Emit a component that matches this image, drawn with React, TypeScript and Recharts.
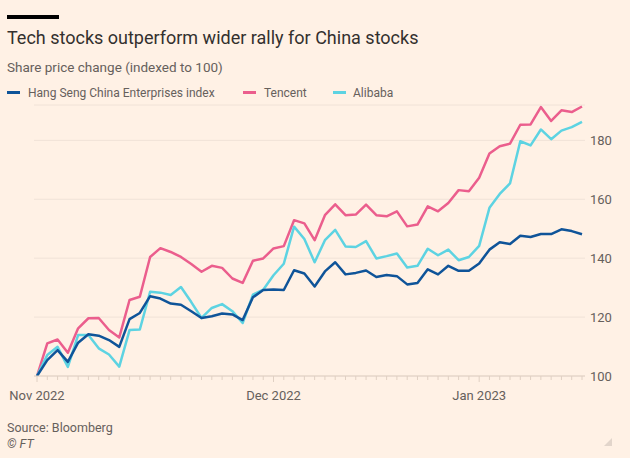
import React from 'react';
import { LineChart, Line, XAxis, YAxis, CartesianGrid } from 'recharts';

// Trading days (HK), Oct 31 2022 = 100 base
const dates = [
  '2022-10-31',
  '2022-11-01', '2022-11-02', '2022-11-03', '2022-11-04',
  '2022-11-07', '2022-11-08', '2022-11-09', '2022-11-10', '2022-11-11',
  '2022-11-14', '2022-11-15', '2022-11-16', '2022-11-17', '2022-11-18',
  '2022-11-21', '2022-11-22', '2022-11-23', '2022-11-24', '2022-11-25',
  '2022-11-28', '2022-11-29', '2022-11-30',
  '2022-12-01', '2022-12-02',
  '2022-12-05', '2022-12-06', '2022-12-07', '2022-12-08', '2022-12-09',
  '2022-12-12', '2022-12-13', '2022-12-14', '2022-12-15', '2022-12-16',
  '2022-12-19', '2022-12-20', '2022-12-21', '2022-12-22', '2022-12-23',
  '2022-12-28', '2022-12-29', '2022-12-30',
  '2023-01-03', '2023-01-04', '2023-01-05', '2023-01-06',
  '2023-01-09', '2023-01-10', '2023-01-11', '2023-01-12', '2023-01-13',
  '2023-01-16', '2023-01-17',
];

const hscei = [
  100, 105.4, 108.8, 104.8, 111.3, 114.2, 113.7, 112.2, 109.9, 119.3,
  121.4, 127.1, 126.3, 124.6, 124.2, 122.0, 119.7, 120.3, 121.2, 120.9,
  119.0, 126.7, 129.2, 129.4, 129.2, 135.9, 134.8, 130.4, 135.5, 138.6,
  134.5, 135.0, 135.8, 133.6, 134.3, 133.9, 131.1, 131.6, 136.2, 134.5,
  137.4, 135.7, 135.7, 138.2, 142.9, 145.4, 144.8, 147.6, 147.2, 148.2,
  148.2, 149.8, 149.2, 148.1,
];

const tencent = [
  100, 111.1, 112.4, 107.9, 116.2, 119.6, 119.7, 115.6, 113.1, 125.8,
  126.9, 140.4, 143.4, 142.1, 140.4, 138.0, 135.4, 137.4, 136.7, 133.1,
  131.6, 139.1, 139.9, 143.3, 144.1, 152.9, 151.8, 146.1, 154.6, 158.3,
  154.6, 154.8, 158.2, 154.6, 154.2, 155.9, 150.8, 151.4, 157.6, 155.9,
  158.7, 163.1, 162.7, 167.3, 175.5, 178.0, 178.9, 185.3, 185.4, 191.3,
  186.6, 190.2, 189.6, 191.5,
];

const alibaba = [
  100, 107.1, 109.9, 103.1, 113.9, 113.9, 109.4, 107.3, 103.2, 115.6,
  115.8, 128.6, 128.3, 127.5, 130.2, 125.1, 119.7, 123.1, 124.4, 122.0,
  118.0, 127.6, 129.3, 134.2, 138.1, 150.7, 146.5, 138.6, 146.1, 149.6,
  144.0, 143.8, 145.8, 139.9, 140.7, 141.6, 136.8, 137.4, 143.2, 141.0,
  142.9, 139.3, 140.4, 144.2, 157.1, 161.8, 165.4, 179.7, 178.3, 183.7,
  180.4, 183.3, 184.5, 186.3,
];

const yTicks = [100, 120, 140, 160, 180];
const monthTickDates = ['2022-10-31', '2022-12-01', '2023-01-03'];
const monthTickLabels = ['Nov 2022', 'Dec 2022', 'Jan 2023'];

const seriesNames = ['Hang Seng China Enterprises index', 'Tencent', 'Alibaba'];

const data = dates.map((d, i) => ({
  date: d,
  hscei: hscei[i],
  tencent: tencent[i],
  alibaba: alibaba[i],
}));

const BG = '#FFF1E5';
const TEXT = '#33302e';
const MUTED = '#66605c';
const GRID = '#f0e2d7';
const AXIS = '#e0d0c3';
const BLUE = '#0f5499';
const PINK = '#eb5e8d';
const CYAN = '#5dd3e2';
const FONT = 'Roboto, "Noto Sans", sans-serif';

const XTick = (props: any) => {
  const { x, y, payload } = props;
  const k = monthTickDates.indexOf(payload.value);
  return (
    <g>
      <line x1={x} x2={x} y1={y} y2={y + (k >= 0 ? 6 : 4)} stroke={AXIS} strokeWidth={1} />
      {k >= 0 && (
        <text x={x} y={y + 24} textAnchor="middle" fill={MUTED} fontSize={13} fontFamily={FONT}>
          {monthTickLabels[k]}
        </text>
      )}
    </g>
  );
};

const legendItems = [
  { name: seriesNames[0], color: BLUE, swatchX: 7, textX: 28 },
  { name: seriesNames[1], color: PINK, swatchX: 243, textX: 264 },
  { name: seriesNames[2], color: CYAN, swatchX: 333, textX: 353 },
];

export default function App() {
  return (
    <div
      style={{
        position: 'absolute',
        left: 0,
        top: 0,
        width: 630,
        height: 458,
        background: BG,
        overflow: 'hidden',
        fontFamily: FONT,
      }}
    >
      <div style={{ position: 'absolute', left: 7, top: 15, width: 52, height: 4, background: '#000' }} />
      <div
        style={{
          position: 'absolute',
          left: 7,
          top: 26,
          fontSize: 18,
          lineHeight: '24px',
          color: TEXT,
          whiteSpace: 'nowrap',
        }}
      >
        Tech stocks outperform wider rally for China stocks
      </div>
      <div
        style={{
          position: 'absolute',
          left: 7,
          top: 58,
          fontSize: 13.5,
          lineHeight: '18px',
          color: MUTED,
          whiteSpace: 'nowrap',
        }}
      >
        Share price change (indexed to 100)
      </div>
      {legendItems.map((it) => (
        <React.Fragment key={it.name}>
          <div
            style={{ position: 'absolute', left: it.swatchX, top: 91, width: 13, height: 3, background: it.color }}
          />
          <div
            style={{
              position: 'absolute',
              left: it.textX,
              top: 84,
              fontSize: 12,
              lineHeight: '18px',
              color: MUTED,
              whiteSpace: 'nowrap',
            }}
          >
            {it.name}
          </div>
        </React.Fragment>
      ))}
      <div style={{ position: 'absolute', left: 0, top: 0 }}>
        <LineChart width={630} height={458} data={data} margin={{ top: 105, right: 0, bottom: 52, left: 34 }}>
          <CartesianGrid horizontal vertical={false} stroke={GRID} strokeWidth={1} />
          <XAxis
            dataKey="date"
            scale="point"
            padding={{ left: 3, right: 3 }}
            interval={0}
            tickSize={0}
            tickMargin={0}
            tickLine={false}
            axisLine={{ stroke: AXIS, strokeWidth: 1 }}
            tick={<XTick />}
            height={30}
          />
          <YAxis
            orientation="right"
            domain={[100, 192]}
            ticks={yTicks}
            allowDataOverflow
            width={45}
            tickLine={false}
            axisLine={false}
            tickSize={3}
            tickMargin={2}
            tick={{ fill: MUTED, fontSize: 13, fontFamily: FONT, textAnchor: 'start' }}
          />
          <Line
            type="linear"
            dataKey="tencent"
            stroke={PINK}
            strokeWidth={2.5}
            dot={false}
            strokeLinejoin="round"
            isAnimationActive={false}
          />
          <Line
            type="linear"
            dataKey="alibaba"
            stroke={CYAN}
            strokeWidth={2.5}
            dot={false}
            strokeLinejoin="round"
            isAnimationActive={false}
          />
          <Line
            type="linear"
            dataKey="hscei"
            stroke={BLUE}
            strokeWidth={2.5}
            dot={false}
            strokeLinejoin="round"
            isAnimationActive={false}
          />
        </LineChart>
      </div>
      <div
        style={{
          position: 'absolute',
          left: 7,
          top: 420,
          fontSize: 12.5,
          lineHeight: '16px',
          color: MUTED,
          whiteSpace: 'nowrap',
        }}
      >
        Source: Bloomberg
      </div>
      <div
        style={{
          position: 'absolute',
          left: 7,
          top: 436,
          fontSize: 12.5,
          lineHeight: '16px',
          color: MUTED,
          fontStyle: 'italic',
          whiteSpace: 'nowrap',
        }}
      >
        © FT
      </div>
      <svg style={{ position: 'absolute', left: 603, top: 437 }} width={10} height={10}>
        <polygon points="9,1 9,9 1,9" fill="#e2d5cb" />
      </svg>
    </div>
  );
}
